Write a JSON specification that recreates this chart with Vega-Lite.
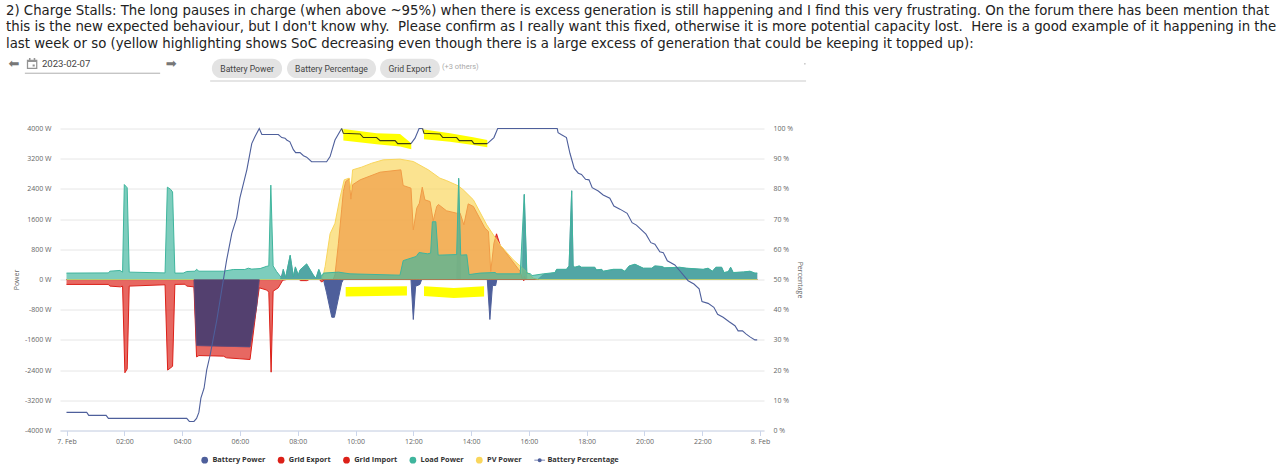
{
  "$schema": "https://vega.github.io/schema/vega-lite/v6.json",
  "autosize": "none",
  "width": 704,
  "height": 302,
  "padding": {"left": 60, "top": 128.5, "right": 519, "bottom": 39.5},
  "background": "white",
  "title": {
    "text": [
      "2) Charge Stalls: The long pauses in charge (when above ~95%) when there is excess generation is still happening and I find this very frustrating. On the forum there has been mention that",
      "this is the new expected behaviour, but I don't know why. \u00a0Please confirm as I really want this fixed, otherwise it is more potential capacity lost. \u00a0Here is a good example of it happening in the",
      "last week or so (yellow highlighting shows SoC decreasing even though there is a large excess of generation that could be keeping it topped up):"
    ],
    "anchor": "start",
    "frame": "group",
    "orient": "top",
    "baseline": "top",
    "offset": 9.5,
    "dx": -54,
    "dy": 2,
    "font": "DejaVu Sans",
    "fontSize": 13.3,
    "fontWeight": "normal",
    "color": "#222222",
    "lineHeight": 16.6,
    "limit": 1300
  },
  "config": {
    "view": {"stroke": null},
    "font": "Open Sans"
  },
  "datasets": {
    "power": [
      {"series": "Battery Power", "hour": 0, "watts": 0},
      {"series": "Battery Power", "hour": 4.41, "watts": 0},
      {"series": "Battery Power", "hour": 4.5, "watts": -1750},
      {"series": "Battery Power", "hour": 6.35, "watts": -1785},
      {"series": "Battery Power", "hour": 6.58, "watts": -706},
      {"series": "Battery Power", "hour": 6.67, "watts": 0},
      {"series": "Battery Power", "hour": 7.4, "watts": 0},
      {"series": "Battery Power", "hour": 7.5, "watts": 260},
      {"series": "Battery Power", "hour": 7.58, "watts": 45},
      {"series": "Battery Power", "hour": 7.74, "watts": 630},
      {"series": "Battery Power", "hour": 7.85, "watts": 70},
      {"series": "Battery Power", "hour": 7.92, "watts": 320},
      {"series": "Battery Power", "hour": 8.02, "watts": 110},
      {"series": "Battery Power", "hour": 8.08, "watts": 240},
      {"series": "Battery Power", "hour": 8.31, "watts": 400},
      {"series": "Battery Power", "hour": 8.54, "watts": 110},
      {"series": "Battery Power", "hour": 8.63, "watts": 10},
      {"series": "Battery Power", "hour": 8.73, "watts": 255},
      {"series": "Battery Power", "hour": 8.83, "watts": 20},
      {"series": "Battery Power", "hour": 8.89, "watts": 0},
      {"series": "Battery Power", "hour": 9.0, "watts": -353},
      {"series": "Battery Power", "hour": 9.18, "watts": -1000},
      {"series": "Battery Power", "hour": 9.27, "watts": -1000},
      {"series": "Battery Power", "hour": 9.52, "watts": -90},
      {"series": "Battery Power", "hour": 9.58, "watts": 0},
      {"series": "Battery Power", "hour": 11.92, "watts": 0},
      {"series": "Battery Power", "hour": 12.0, "watts": -1060},
      {"series": "Battery Power", "hour": 12.08, "watts": -180},
      {"series": "Battery Power", "hour": 12.23, "watts": -130},
      {"series": "Battery Power", "hour": 12.29, "watts": 0},
      {"series": "Battery Power", "hour": 13.5, "watts": 0},
      {"series": "Battery Power", "hour": 13.57, "watts": 2650},
      {"series": "Battery Power", "hour": 13.64, "watts": 0},
      {"series": "Battery Power", "hour": 14.56, "watts": 0},
      {"series": "Battery Power", "hour": 14.65, "watts": -1060},
      {"series": "Battery Power", "hour": 14.74, "watts": -160},
      {"series": "Battery Power", "hour": 14.85, "watts": -160},
      {"series": "Battery Power", "hour": 14.89, "watts": 0},
      {"series": "Battery Power", "hour": 15.77, "watts": 0},
      {"series": "Battery Power", "hour": 15.84, "watts": 2240},
      {"series": "Battery Power", "hour": 15.93, "watts": 0},
      {"series": "Battery Power", "hour": 16.3, "watts": 0},
      {"series": "Battery Power", "hour": 16.5, "watts": 130},
      {"series": "Battery Power", "hour": 16.9, "watts": 175},
      {"series": "Battery Power", "hour": 16.96, "watts": 265},
      {"series": "Battery Power", "hour": 17.3, "watts": 265},
      {"series": "Battery Power", "hour": 17.39, "watts": 355},
      {"series": "Battery Power", "hour": 17.48, "watts": 2350},
      {"series": "Battery Power", "hour": 17.53, "watts": 355},
      {"series": "Battery Power", "hour": 17.59, "watts": 320},
      {"series": "Battery Power", "hour": 17.74, "watts": 355},
      {"series": "Battery Power", "hour": 17.82, "watts": 320},
      {"series": "Battery Power", "hour": 18.28, "watts": 320},
      {"series": "Battery Power", "hour": 18.34, "watts": 250},
      {"series": "Battery Power", "hour": 18.52, "watts": 265},
      {"series": "Battery Power", "hour": 18.57, "watts": 215},
      {"series": "Battery Power", "hour": 18.92, "watts": 265},
      {"series": "Battery Power", "hour": 19.2, "watts": 265},
      {"series": "Battery Power", "hour": 19.32, "watts": 215},
      {"series": "Battery Power", "hour": 19.47, "watts": 355},
      {"series": "Battery Power", "hour": 19.67, "watts": 400},
      {"series": "Battery Power", "hour": 19.96, "watts": 295},
      {"series": "Battery Power", "hour": 20.25, "watts": 295},
      {"series": "Battery Power", "hour": 20.36, "watts": 355},
      {"series": "Battery Power", "hour": 20.6, "watts": 340},
      {"series": "Battery Power", "hour": 20.7, "watts": 305},
      {"series": "Battery Power", "hour": 21.22, "watts": 320},
      {"series": "Battery Power", "hour": 21.45, "watts": 295},
      {"series": "Battery Power", "hour": 22.03, "watts": 265},
      {"series": "Battery Power", "hour": 22.2, "watts": 295},
      {"series": "Battery Power", "hour": 22.35, "watts": 215},
      {"series": "Battery Power", "hour": 22.47, "watts": 320},
      {"series": "Battery Power", "hour": 22.67, "watts": 320},
      {"series": "Battery Power", "hour": 22.75, "watts": 180},
      {"series": "Battery Power", "hour": 22.9, "watts": 200},
      {"series": "Battery Power", "hour": 22.98, "watts": 320},
      {"series": "Battery Power", "hour": 23.07, "watts": 180},
      {"series": "Battery Power", "hour": 23.42, "watts": 195},
      {"series": "Battery Power", "hour": 23.65, "watts": 215},
      {"series": "Battery Power", "hour": 23.82, "watts": 165},
      {"series": "Battery Power", "hour": 23.9, "watts": 165},
      {"series": "Grid Export", "hour": 9.23, "watts": 0},
      {"series": "Grid Export", "hour": 9.29, "watts": 125},
      {"series": "Grid Export", "hour": 9.41, "watts": 960},
      {"series": "Grid Export", "hour": 9.52, "watts": 1845},
      {"series": "Grid Export", "hour": 9.58, "watts": 2330},
      {"series": "Grid Export", "hour": 9.66, "watts": 2595},
      {"series": "Grid Export", "hour": 9.78, "watts": 2667},
      {"series": "Grid Export", "hour": 9.84, "watts": 2128},
      {"series": "Grid Export", "hour": 9.9, "watts": 2510},
      {"series": "Grid Export", "hour": 10.16, "watts": 2640},
      {"series": "Grid Export", "hour": 10.85, "watts": 2843},
      {"series": "Grid Export", "hour": 11.57, "watts": 2905},
      {"series": "Grid Export", "hour": 11.65, "watts": 2490},
      {"series": "Grid Export", "hour": 11.92, "watts": 2420},
      {"series": "Grid Export", "hour": 12.0, "watts": 1315},
      {"series": "Grid Export", "hour": 12.12, "watts": 1890},
      {"series": "Grid Export", "hour": 12.21, "watts": 2020},
      {"series": "Grid Export", "hour": 12.31, "watts": 2446},
      {"series": "Grid Export", "hour": 12.4, "watts": 2110},
      {"series": "Grid Export", "hour": 12.58, "watts": 2066},
      {"series": "Grid Export", "hour": 12.69, "watts": 1554},
      {"series": "Grid Export", "hour": 12.81, "watts": 1934},
      {"series": "Grid Export", "hour": 12.87, "watts": 1987},
      {"series": "Grid Export", "hour": 13.15, "watts": 1820},
      {"series": "Grid Export", "hour": 13.5, "watts": 1757},
      {"series": "Grid Export", "hour": 13.62, "watts": 1757},
      {"series": "Grid Export", "hour": 13.75, "watts": 1448},
      {"series": "Grid Export", "hour": 13.9, "watts": 2004},
      {"series": "Grid Export", "hour": 14.08, "watts": 1934},
      {"series": "Grid Export", "hour": 14.48, "watts": 1360},
      {"series": "Grid Export", "hour": 14.6, "watts": 1272},
      {"series": "Grid Export", "hour": 14.68, "watts": 212},
      {"series": "Grid Export", "hour": 14.79, "watts": 962},
      {"series": "Grid Export", "hour": 14.88, "watts": 1210},
      {"series": "Grid Export", "hour": 15.0, "watts": 918},
      {"series": "Grid Export", "hour": 15.7, "watts": 212},
      {"series": "Grid Export", "hour": 15.84, "watts": 80},
      {"series": "Grid Export", "hour": 15.93, "watts": 0},
      {"series": "Grid Import", "hour": 0, "watts": -130},
      {"series": "Grid Import", "hour": 1.45, "watts": -130},
      {"series": "Grid Import", "hour": 1.5, "watts": -175},
      {"series": "Grid Import", "hour": 1.87, "watts": -195},
      {"series": "Grid Import", "hour": 1.94, "watts": -175},
      {"series": "Grid Import", "hour": 2.02, "watts": -2470},
      {"series": "Grid Import", "hour": 2.1, "watts": -2370},
      {"series": "Grid Import", "hour": 2.17, "watts": -175},
      {"series": "Grid Import", "hour": 3.41, "watts": -140},
      {"series": "Grid Import", "hour": 3.5, "watts": -2400},
      {"series": "Grid Import", "hour": 3.67, "watts": -2300},
      {"series": "Grid Import", "hour": 3.75, "watts": -130},
      {"series": "Grid Import", "hour": 4.1, "watts": -125},
      {"series": "Grid Import", "hour": 4.16, "watts": -175},
      {"series": "Grid Import", "hour": 4.41, "watts": -195},
      {"series": "Grid Import", "hour": 4.5, "watts": -2050},
      {"series": "Grid Import", "hour": 4.58, "watts": -2015},
      {"series": "Grid Import", "hour": 5.43, "watts": -2030},
      {"series": "Grid Import", "hour": 5.54, "watts": -2075},
      {"series": "Grid Import", "hour": 6.0, "watts": -2100},
      {"series": "Grid Import", "hour": 6.35, "watts": -2120},
      {"series": "Grid Import", "hour": 6.58, "watts": -700},
      {"series": "Grid Import", "hour": 6.67, "watts": -220},
      {"series": "Grid Import", "hour": 6.93, "watts": -280},
      {"series": "Grid Import", "hour": 7.0, "watts": -335},
      {"series": "Grid Import", "hour": 7.08, "watts": -2455},
      {"series": "Grid Import", "hour": 7.15, "watts": -310},
      {"series": "Grid Import", "hour": 7.33, "watts": -220},
      {"series": "Grid Import", "hour": 7.48, "watts": -20},
      {"series": "Grid Import", "hour": 7.62, "watts": 0},
      {"series": "Grid Import", "hour": 8.05, "watts": 0},
      {"series": "Grid Import", "hour": 8.1, "watts": -30},
      {"series": "Grid Import", "hour": 8.31, "watts": -30},
      {"series": "Grid Import", "hour": 8.4, "watts": 0},
      {"series": "Grid Import", "hour": 8.75, "watts": 0},
      {"series": "Grid Import", "hour": 8.83, "watts": -70},
      {"series": "Grid Import", "hour": 8.92, "watts": 0},
      {"series": "Grid Import", "hour": 15.78, "watts": 0},
      {"series": "Grid Import", "hour": 15.83, "watts": -30},
      {"series": "Grid Import", "hour": 15.9, "watts": 0},
      {"series": "Grid Import", "hour": 23.9, "watts": 0},
      {"series": "PV Power", "hour": 0, "watts": 0},
      {"series": "PV Power", "hour": 8.8, "watts": 0},
      {"series": "PV Power", "hour": 8.86, "watts": 35},
      {"series": "PV Power", "hour": 8.95, "watts": 345},
      {"series": "PV Power", "hour": 9.12, "watts": 1210},
      {"series": "PV Power", "hour": 9.29, "watts": 1490},
      {"series": "PV Power", "hour": 9.46, "watts": 2155},
      {"series": "PV Power", "hour": 9.61, "watts": 2640},
      {"series": "PV Power", "hour": 9.78, "watts": 2685},
      {"series": "PV Power", "hour": 9.84, "watts": 2375},
      {"series": "PV Power", "hour": 9.9, "watts": 2905},
      {"series": "PV Power", "hour": 10.21, "watts": 2976},
      {"series": "PV Power", "hour": 10.56, "watts": 3080},
      {"series": "PV Power", "hour": 10.96, "watts": 3170},
      {"series": "PV Power", "hour": 11.54, "watts": 3188},
      {"series": "PV Power", "hour": 12.0, "watts": 3126},
      {"series": "PV Power", "hour": 12.52, "watts": 2905},
      {"series": "PV Power", "hour": 12.92, "watts": 2685},
      {"series": "PV Power", "hour": 13.15, "watts": 2620},
      {"series": "PV Power", "hour": 13.56, "watts": 2480},
      {"series": "PV Power", "hour": 13.73, "watts": 2375},
      {"series": "PV Power", "hour": 14.08, "watts": 2110},
      {"series": "PV Power", "hour": 14.54, "watts": 1448},
      {"series": "PV Power", "hour": 15.0, "watts": 918},
      {"series": "PV Power", "hour": 15.46, "watts": 521},
      {"series": "PV Power", "hour": 16.04, "watts": 124},
      {"series": "PV Power", "hour": 16.15, "watts": 35},
      {"series": "PV Power", "hour": 16.33, "watts": 0},
      {"series": "PV Power", "hour": 23.9, "watts": 0},
      {"series": "Load Power", "hour": 0, "watts": 170},
      {"series": "Load Power", "hour": 1.45, "watts": 175},
      {"series": "Load Power", "hour": 1.5, "watts": 220},
      {"series": "Load Power", "hour": 1.85, "watts": 240},
      {"series": "Load Power", "hour": 1.94, "watts": 195},
      {"series": "Load Power", "hour": 2.0, "watts": 2516},
      {"series": "Load Power", "hour": 2.1, "watts": 2430},
      {"series": "Load Power", "hour": 2.17, "watts": 195},
      {"series": "Load Power", "hour": 3.41, "watts": 175},
      {"series": "Load Power", "hour": 3.49, "watts": 2446},
      {"series": "Load Power", "hour": 3.6, "watts": 2390},
      {"series": "Load Power", "hour": 3.67, "watts": 2320},
      {"series": "Load Power", "hour": 3.75, "watts": 170},
      {"series": "Load Power", "hour": 4.04, "watts": 170},
      {"series": "Load Power", "hour": 4.16, "watts": 212},
      {"series": "Load Power", "hour": 4.45, "watts": 220},
      {"series": "Load Power", "hour": 4.5, "watts": 270},
      {"series": "Load Power", "hour": 4.58, "watts": 220},
      {"series": "Load Power", "hour": 5.43, "watts": 220},
      {"series": "Load Power", "hour": 5.77, "watts": 265},
      {"series": "Load Power", "hour": 6.17, "watts": 265},
      {"series": "Load Power", "hour": 6.29, "watts": 300},
      {"series": "Load Power", "hour": 6.41, "watts": 275},
      {"series": "Load Power", "hour": 6.7, "watts": 290},
      {"series": "Load Power", "hour": 6.93, "watts": 350},
      {"series": "Load Power", "hour": 7.0, "watts": 360},
      {"series": "Load Power", "hour": 7.07, "watts": 2500},
      {"series": "Load Power", "hour": 7.15, "watts": 360},
      {"series": "Load Power", "hour": 7.27, "watts": 210},
      {"series": "Load Power", "hour": 7.45, "watts": 35},
      {"series": "Load Power", "hour": 7.5, "watts": 270},
      {"series": "Load Power", "hour": 7.58, "watts": 50},
      {"series": "Load Power", "hour": 7.74, "watts": 645},
      {"series": "Load Power", "hour": 7.85, "watts": 80},
      {"series": "Load Power", "hour": 7.92, "watts": 335},
      {"series": "Load Power", "hour": 8.02, "watts": 120},
      {"series": "Load Power", "hour": 8.08, "watts": 255},
      {"series": "Load Power", "hour": 8.31, "watts": 415},
      {"series": "Load Power", "hour": 8.54, "watts": 120},
      {"series": "Load Power", "hour": 8.63, "watts": 35},
      {"series": "Load Power", "hour": 8.73, "watts": 270},
      {"series": "Load Power", "hour": 8.83, "watts": 80},
      {"series": "Load Power", "hour": 8.89, "watts": 170},
      {"series": "Load Power", "hour": 9.41, "watts": 195},
      {"series": "Load Power", "hour": 9.81, "watts": 150},
      {"series": "Load Power", "hour": 11.54, "watts": 115},
      {"series": "Load Power", "hour": 11.65, "watts": 500},
      {"series": "Load Power", "hour": 12.1, "watts": 610},
      {"series": "Load Power", "hour": 12.2, "watts": 715},
      {"series": "Load Power", "hour": 12.5, "watts": 680},
      {"series": "Load Power", "hour": 12.6, "watts": 700},
      {"series": "Load Power", "hour": 12.66, "watts": 1530},
      {"series": "Load Power", "hour": 12.78, "watts": 1530},
      {"series": "Load Power", "hour": 12.86, "watts": 645},
      {"series": "Load Power", "hour": 13.5, "watts": 660},
      {"series": "Load Power", "hour": 13.57, "watts": 2685},
      {"series": "Load Power", "hour": 13.64, "watts": 645},
      {"series": "Load Power", "hour": 13.85, "watts": 655},
      {"series": "Load Power", "hour": 13.93, "watts": 130},
      {"series": "Load Power", "hour": 14.31, "watts": 170},
      {"series": "Load Power", "hour": 14.83, "watts": 185},
      {"series": "Load Power", "hour": 14.89, "watts": 150},
      {"series": "Load Power", "hour": 15.7, "watts": 150},
      {"series": "Load Power", "hour": 15.84, "watts": 2260},
      {"series": "Load Power", "hour": 15.93, "watts": 170},
      {"series": "Load Power", "hour": 16.05, "watts": 150},
      {"series": "Load Power", "hour": 16.11, "watts": 105},
      {"series": "Load Power", "hour": 16.5, "watts": 150},
      {"series": "Load Power", "hour": 16.9, "watts": 185},
      {"series": "Load Power", "hour": 16.96, "watts": 270},
      {"series": "Load Power", "hour": 17.3, "watts": 270},
      {"series": "Load Power", "hour": 17.39, "watts": 360},
      {"series": "Load Power", "hour": 17.48, "watts": 2350},
      {"series": "Load Power", "hour": 17.53, "watts": 360},
      {"series": "Load Power", "hour": 17.59, "watts": 325},
      {"series": "Load Power", "hour": 17.74, "watts": 360},
      {"series": "Load Power", "hour": 17.82, "watts": 325},
      {"series": "Load Power", "hour": 18.28, "watts": 325},
      {"series": "Load Power", "hour": 18.34, "watts": 255},
      {"series": "Load Power", "hour": 18.52, "watts": 270},
      {"series": "Load Power", "hour": 18.57, "watts": 220},
      {"series": "Load Power", "hour": 18.92, "watts": 270},
      {"series": "Load Power", "hour": 19.2, "watts": 270},
      {"series": "Load Power", "hour": 19.32, "watts": 220},
      {"series": "Load Power", "hour": 19.47, "watts": 360},
      {"series": "Load Power", "hour": 19.67, "watts": 405},
      {"series": "Load Power", "hour": 19.96, "watts": 300},
      {"series": "Load Power", "hour": 20.25, "watts": 300},
      {"series": "Load Power", "hour": 20.36, "watts": 360},
      {"series": "Load Power", "hour": 20.6, "watts": 345},
      {"series": "Load Power", "hour": 20.7, "watts": 310},
      {"series": "Load Power", "hour": 21.22, "watts": 325},
      {"series": "Load Power", "hour": 21.45, "watts": 300},
      {"series": "Load Power", "hour": 22.03, "watts": 270},
      {"series": "Load Power", "hour": 22.2, "watts": 300},
      {"series": "Load Power", "hour": 22.35, "watts": 220},
      {"series": "Load Power", "hour": 22.47, "watts": 325},
      {"series": "Load Power", "hour": 22.67, "watts": 325},
      {"series": "Load Power", "hour": 22.75, "watts": 185},
      {"series": "Load Power", "hour": 22.9, "watts": 210},
      {"series": "Load Power", "hour": 22.98, "watts": 325},
      {"series": "Load Power", "hour": 23.07, "watts": 185},
      {"series": "Load Power", "hour": 23.42, "watts": 200},
      {"series": "Load Power", "hour": 23.65, "watts": 220},
      {"series": "Load Power", "hour": 23.82, "watts": 170},
      {"series": "Load Power", "hour": 23.9, "watts": 170}
    ],
    "soc": [
      {"stretch": "a", "hour": 0, "percent": 6}, {"stretch": "a", "hour": 0.7, "percent": 6}, {"stretch": "a", "hour": 0.77, "percent": 5},
      {"stretch": "a", "hour": 1.37, "percent": 5}, {"stretch": "a", "hour": 1.45, "percent": 4}, {"stretch": "a", "hour": 4.16, "percent": 4},
      {"stretch": "a", "hour": 4.25, "percent": 3}, {"stretch": "a", "hour": 4.41, "percent": 3}, {"stretch": "a", "hour": 4.5, "percent": 4},
      {"stretch": "a", "hour": 4.58, "percent": 6}, {"stretch": "a", "hour": 4.65, "percent": 10.7}, {"stretch": "a", "hour": 4.76, "percent": 14},
      {"stretch": "a", "hour": 4.85, "percent": 20}, {"stretch": "a", "hour": 4.97, "percent": 25}, {"stretch": "a", "hour": 5.2, "percent": 36.5},
      {"stretch": "a", "hour": 5.43, "percent": 50}, {"stretch": "a", "hour": 5.54, "percent": 56.4}, {"stretch": "a", "hour": 5.72, "percent": 65.3},
      {"stretch": "a", "hour": 5.89, "percent": 70.5}, {"stretch": "a", "hour": 6.0, "percent": 77}, {"stretch": "a", "hour": 6.24, "percent": 86.3},
      {"stretch": "a", "hour": 6.41, "percent": 95}, {"stretch": "a", "hour": 6.52, "percent": 97.3}, {"stretch": "a", "hour": 6.67, "percent": 100},
      {"stretch": "a", "hour": 6.76, "percent": 98}, {"stretch": "a", "hour": 7.33, "percent": 98}, {"stretch": "a", "hour": 7.45, "percent": 97},
      {"stretch": "a", "hour": 7.56, "percent": 96.8}, {"stretch": "a", "hour": 7.62, "percent": 96.2}, {"stretch": "a", "hour": 7.73, "percent": 95.6},
      {"stretch": "a", "hour": 7.85, "percent": 93}, {"stretch": "a", "hour": 7.93, "percent": 92}, {"stretch": "a", "hour": 8.08, "percent": 92},
      {"stretch": "a", "hour": 8.2, "percent": 91}, {"stretch": "a", "hour": 8.31, "percent": 90.5}, {"stretch": "a", "hour": 8.48, "percent": 89},
      {"stretch": "a", "hour": 9.0, "percent": 89}, {"stretch": "a", "hour": 9.12, "percent": 90.7}, {"stretch": "a", "hour": 9.29, "percent": 96.2},
      {"stretch": "a", "hour": 9.52, "percent": 100},
      {"stretch": "c", "hour": 11.92, "percent": 95}, {"stretch": "c", "hour": 12.06, "percent": 96.8},
      {"stretch": "c", "hour": 12.2, "percent": 100}, {"stretch": "c", "hour": 12.32, "percent": 100},
      {"stretch": "d", "hour": 14.56, "percent": 95}, {"stretch": "d", "hour": 14.79, "percent": 97},
      {"stretch": "d", "hour": 14.92, "percent": 100}, {"stretch": "d", "hour": 16.98, "percent": 100},
      {"stretch": "d", "hour": 17.01, "percent": 98.6}, {"stretch": "d", "hour": 17.13, "percent": 97.9},
      {"stretch": "d", "hour": 17.3, "percent": 97}, {"stretch": "d", "hour": 17.42, "percent": 91.8},
      {"stretch": "d", "hour": 17.57, "percent": 86.8}, {"stretch": "d", "hour": 17.71, "percent": 85.2},
      {"stretch": "d", "hour": 17.82, "percent": 84.8}, {"stretch": "d", "hour": 17.96, "percent": 83.2},
      {"stretch": "d", "hour": 18.08, "percent": 83}, {"stretch": "d", "hour": 18.19, "percent": 80.4},
      {"stretch": "d", "hour": 18.4, "percent": 79.3}, {"stretch": "d", "hour": 18.57, "percent": 78},
      {"stretch": "d", "hour": 18.8, "percent": 76.9}, {"stretch": "d", "hour": 18.94, "percent": 74.3},
      {"stretch": "d", "hour": 19.15, "percent": 73.3}, {"stretch": "d", "hour": 19.4, "percent": 71.9},
      {"stretch": "d", "hour": 19.57, "percent": 68.8}, {"stretch": "d", "hour": 19.72, "percent": 68},
      {"stretch": "d", "hour": 20.05, "percent": 65}, {"stretch": "d", "hour": 20.22, "percent": 62.2},
      {"stretch": "d", "hour": 20.36, "percent": 61.7}, {"stretch": "d", "hour": 20.53, "percent": 59.2},
      {"stretch": "d", "hour": 20.65, "percent": 58.9}, {"stretch": "d", "hour": 20.79, "percent": 56.2},
      {"stretch": "d", "hour": 21.05, "percent": 54.8}, {"stretch": "d", "hour": 21.22, "percent": 52.9},
      {"stretch": "d", "hour": 21.51, "percent": 49.6}, {"stretch": "d", "hour": 21.71, "percent": 48.5},
      {"stretch": "d", "hour": 21.89, "percent": 46.9}, {"stretch": "d", "hour": 21.99, "percent": 42.7},
      {"stretch": "d", "hour": 22.2, "percent": 42.1}, {"stretch": "d", "hour": 22.4, "percent": 40.8},
      {"stretch": "d", "hour": 22.53, "percent": 38.5}, {"stretch": "d", "hour": 22.72, "percent": 37.5},
      {"stretch": "d", "hour": 22.93, "percent": 36}, {"stretch": "d", "hour": 23.13, "percent": 34.7},
      {"stretch": "d", "hour": 23.24, "percent": 33}, {"stretch": "d", "hour": 23.39, "percent": 33},
      {"stretch": "d", "hour": 23.51, "percent": 32}, {"stretch": "d", "hour": 23.65, "percent": 31},
      {"stretch": "d", "hour": 23.82, "percent": 30}, {"stretch": "d", "hour": 23.9, "percent": 30}
    ],
    "socHighlighted": [
      {"stretch": "a", "hour": 9.52, "percent": 100}, {"stretch": "a", "hour": 9.58, "percent": 98.4},
      {"stretch": "a", "hour": 10.16, "percent": 98.2}, {"stretch": "a", "hour": 10.27, "percent": 97},
      {"stretch": "a", "hour": 10.73, "percent": 97}, {"stretch": "a", "hour": 10.85, "percent": 96},
      {"stretch": "a", "hour": 11.37, "percent": 96}, {"stretch": "a", "hour": 11.46, "percent": 95},
      {"stretch": "a", "hour": 11.92, "percent": 95},
      {"stretch": "b", "hour": 12.32, "percent": 100}, {"stretch": "b", "hour": 12.37, "percent": 98.4},
      {"stretch": "b", "hour": 12.92, "percent": 98.2}, {"stretch": "b", "hour": 13.02, "percent": 97},
      {"stretch": "b", "hour": 13.5, "percent": 97}, {"stretch": "b", "hour": 13.59, "percent": 96},
      {"stretch": "b", "hour": 14.02, "percent": 96}, {"stretch": "b", "hour": 14.1, "percent": 95},
      {"stretch": "b", "hour": 14.56, "percent": 95}
    ],
    "highlight": [
      {"patch": "top1", "hour": 9.58, "low": 96, "high": 99.8},
      {"patch": "top1", "hour": 10.73, "low": 94.8, "high": 98.4},
      {"patch": "top1", "hour": 11.54, "low": 94, "high": 98.2},
      {"patch": "top1", "hour": 11.93, "low": 93.1, "high": 95.1},
      {"patch": "top2", "hour": 12.37, "low": 96.4, "high": 99.7},
      {"patch": "top2", "hour": 13.27, "low": 95.6, "high": 98.4},
      {"patch": "top2", "hour": 14.07, "low": 94.5, "high": 97.1},
      {"patch": "top2", "hour": 14.56, "low": 93.8, "high": 96.2},
      {"patch": "low1", "hour": 9.66, "low": 44.4, "high": 47.5},
      {"patch": "low1", "hour": 11.78, "low": 44.7, "high": 47.8},
      {"patch": "low2", "hour": 12.37, "low": 44.5, "high": 47.8},
      {"patch": "low2", "hour": 13.4, "low": 43.9, "high": 47.2},
      {"patch": "low2", "hour": 14.45, "low": 44.4, "high": 47.8}
    ],
    "chips": [
      {"label": "Battery Power", "hour": 5.03, "end": 7.46, "middle": 6.25},
      {"label": "Battery Percentage", "hour": 7.63, "end": 10.71, "middle": 9.17},
      {"label": "Grid Export", "hour": 10.85, "end": 12.92, "middle": 11.88}
    ]
  },
  "encoding": {
    "x": {
      "field": "hour",
      "type": "quantitative",
      "scale": {"domain": [-0.225, 24.135], "nice": false, "zero": false},
      "axis": {
        "title": null,
        "values": [0, 2, 4, 6, 8, 10, 12, 14, 16, 18, 20, 22, 24],
        "labelExpr": "datum.value == 0 ? '7. Feb' : datum.value == 24 ? '8. Feb' : (datum.value < 10 ? '0' : '') + datum.value + ':00'",
        "grid": false,
        "domainColor": "#ccd6eb",
        "tickColor": "#ccd6eb",
        "tickSize": 5,
        "labelFont": "Open Sans",
        "labelFontSize": 7,
        "labelColor": "#666666",
        "labelPadding": 2,
        "labelFlush": false
      }
    }
  },
  "layer": [
    {
      "encoding": {
        "y": {
          "field": "watts",
          "type": "quantitative",
          "scale": {"domain": [-4000, 4000], "nice": false},
          "axis": {
            "title": "Power",
            "titleFont": "Open Sans",
            "titleFontSize": 7,
            "titleFontWeight": "normal",
            "titleColor": "#666666",
            "titlePadding": 5,
            "values": [-4000, -3200, -2400, -1600, -800, 0, 800, 1600, 2400, 3200, 4000],
            "labelExpr": "datum.value + ' W'",
            "labelFont": "Open Sans",
            "labelFontSize": 7,
            "labelColor": "#666666",
            "labelPadding": 9,
            "tickSize": 0,
            "domain": false,
            "grid": true,
            "gridColor": "#e6e6e6",
            "gridWidth": 1
          }
        },
        "color": {
          "field": "series",
          "type": "nominal",
          "scale": {
            "domain": ["Battery Power", "Grid Export", "Grid Import", "Load Power", "PV Power", "Battery Percentage"],
            "range": ["#4e5f9b", "#dc2018", "#dc2018", "#3fb59d", "#f9d65c", "#4e5f9b"]
          },
          "legend": {
            "orient": "none",
            "legendX": 141,
            "legendY": 328,
            "direction": "horizontal",
            "title": null,
            "labelFont": "Open Sans",
            "labelFontSize": 7.4,
            "labelFontWeight": "bold",
            "labelColor": "#333333",
            "symbolSize": 45,
            "symbolOpacity": 1,
            "symbolStrokeWidth": 0,
            "columnPadding": 11.4,
            "labelOffset": 4,
            "gridAlign": "none"
          }
        }
      },
      "layer": [
        {
          "data": {"name": "power"},
          "transform": [{"filter": "datum.series == 'Battery Power' && datum.watts >= 0"}],
          "mark": {"type": "area", "opacity": 0.75, "line": {"strokeWidth": 0.6}}
        },
        {
          "data": {"name": "power"},
          "transform": [{"filter": "datum.series == 'Battery Power' && datum.watts <= 0"}],
          "mark": {"type": "area", "opacity": 1, "line": {"strokeWidth": 1}}
        },
        {
          "data": {"name": "power"},
          "transform": [{"filter": "datum.series == 'Grid Export' || datum.series == 'Grid Import'"}],
          "mark": {"type": "area", "opacity": 0.68, "line": {"strokeWidth": 1}}
        },
        {
          "data": {"name": "power"},
          "transform": [{"filter": "datum.series == 'PV Power'"}],
          "mark": {"type": "area", "opacity": 0.68, "line": {"strokeWidth": 1}}
        },
        {
          "data": {"name": "power"},
          "transform": [{"filter": "datum.series == 'Load Power'"}],
          "mark": {"type": "area", "opacity": 0.68, "line": {"strokeWidth": 1}}
        },
        {
          "data": {"name": "power"},
          "transform": [{"filter": "datum.series == 'Battery Power' && datum.hour >= 4.41 && datum.hour <= 6.67"}],
          "mark": {"type": "area", "stroke": "#4e5f9b", "strokeWidth": 0.5},
          "encoding": {"color": {"value": "#53406f"}}
        },
        {
          "data": {"name": "power"},
          "mark": {"type": "point", "opacity": 0, "filled": true},
          "encoding": {
            "shape": {
              "field": "series",
              "type": "nominal",
              "scale": {
                "domain": ["Battery Power", "Grid Export", "Grid Import", "Load Power", "PV Power", "Battery Percentage"],
                "range": ["circle", "circle", "circle", "circle", "circle", "M-1.6,-0.11H1.6V0.11H-1.6Z M0.6,0A0.6,0.6 0 1 1 -0.6,0A0.6,0.6 0 1 1 0.6,0Z"]
              },
              "legend": {
                "orient": "none",
                "legendX": 141,
                "legendY": 328,
                "direction": "horizontal",
                "title": null,
                "labelFont": "Open Sans",
                "labelFontSize": 7.4,
                "labelFontWeight": "bold",
                "labelColor": "#333333",
                "symbolSize": 45,
                "symbolOpacity": 1,
                "symbolStrokeWidth": 0,
                "columnPadding": 11.4,
                "labelOffset": 4,
                "gridAlign": "none"
              }
            }
          }
        }
      ]
    },
    {
      "resolve": {"axis": {"y": "independent"}},
      "layer": [
        {
          "data": {"name": "highlight"},
          "mark": {"type": "area", "color": "#ffff00", "opacity": 1},
          "encoding": {
            "y": {"field": "low", "type": "quantitative", "scale": {"domain": [0, 100], "nice": false}, "axis": null},
            "y2": {"field": "high"},
            "detail": {"field": "patch"}
          }
        },
        {
          "data": {"name": "soc"},
          "mark": {"type": "line", "strokeWidth": 1.1, "color": "#4e5f9b"},
          "encoding": {
            "y": {
              "field": "percent",
              "type": "quantitative",
              "scale": {"domain": [0, 100], "nice": false},
              "axis": {
                "orient": "right",
                "title": "Percentage",
                "titleFont": "Open Sans",
                "titleFontSize": 7,
                "titleFontWeight": "normal",
                "titleColor": "#666666",
                "titlePadding": 4,
                "values": [0, 10, 20, 30, 40, 50, 60, 70, 80, 90, 100],
                "labelExpr": "datum.value + ' %'",
                "labelFont": "Open Sans",
                "labelFontSize": 7,
                "labelColor": "#666666",
                "labelPadding": 9,
                "tickSize": 0,
                "domain": false,
                "grid": false
              }
            },
            "detail": {"field": "stretch"}
          }
        },
        {
          "data": {"name": "socHighlighted"},
          "mark": {"type": "line", "strokeWidth": 1.1, "color": "#3f3f14"},
          "encoding": {
            "y": {"field": "percent", "type": "quantitative", "scale": {"domain": [0, 100], "nice": false}, "axis": null},
            "detail": {"field": "stretch"}
          }
        },
        {
          "data": {"name": "chips"},
          "mark": {"type": "bar", "color": "#e3e3e3", "cornerRadius": 10},
          "encoding": {
            "x2": {"field": "end"},
            "y": {"datum": 123.1, "type": "quantitative", "scale": {"domain": [0, 100], "nice": false}, "axis": null},
            "y2": {"datum": 116.7}
          }
        },
        {
          "data": {"name": "chips"},
          "mark": {"type": "text", "font": "Roboto", "fontSize": 8.6, "color": "#444444", "align": "center", "baseline": "middle"},
          "encoding": {
            "x": {"field": "middle", "type": "quantitative", "scale": {"domain": [-0.225, 24.135], "nice": false, "zero": false}},
            "y": {"datum": 119.7, "type": "quantitative", "scale": {"domain": [0, 100], "nice": false}, "axis": null},
            "text": {"field": "label"}
          }
        },
        {
          "data": {"values": [{"label": "(+3 others)", "hour": 12.99}]},
          "mark": {"type": "text", "font": "Roboto", "fontSize": 7.5, "color": "#aaaaaa", "align": "left", "baseline": "middle"},
          "encoding": {"y": {"datum": 120.2, "type": "quantitative", "scale": {"domain": [0, 100], "nice": false}, "axis": null}, "text": {"field": "label"}}
        },
        {
          "data": {"values": [{"label": "2023-02-07", "hour": -0.85}]},
          "mark": {"type": "text", "font": "Roboto", "fontSize": 9.6, "color": "#444444", "align": "left", "baseline": "middle"},
          "encoding": {"y": {"datum": 121.4, "type": "quantitative", "scale": {"domain": [0, 100], "nice": false}, "axis": null}, "text": {"field": "label"}}
        },
        {
          "data": {"values": [{"label": "⬅", "hour": -1.82}, {"label": "➡", "hour": 3.62}]},
          "mark": {"type": "text", "font": "DejaVu Sans", "fontSize": 13, "color": "#777777", "align": "center", "baseline": "middle"},
          "encoding": {"y": {"datum": 121.4, "type": "quantitative", "scale": {"domain": [0, 100], "nice": false}, "axis": null}, "text": {"field": "label"}}
        },
        {
          "data": {"values": [{"hour": -1.19}]},
          "mark": {
            "type": "point",
            "shape": "M-0.5,-0.4H0.5V0.5H-0.5Z M-0.38,-0.17V0.38H0.38V-0.17Z M-0.3,-0.55H-0.15V-0.3H-0.3Z M0.15,-0.55H0.3V-0.3H0.15Z M0.05,0.05H0.25V0.25H0.05Z",
            "filled": true,
            "size": 440,
            "color": "#666666"
          },
          "encoding": {"y": {"datum": 121.4, "type": "quantitative", "scale": {"domain": [0, 100], "nice": false}, "axis": null}}
        },
        {
          "data": {"values": [{"hour": -1.44, "end": 3.24}]},
          "mark": {"type": "rule", "color": "#999999", "strokeWidth": 0.8},
          "encoding": {"x2": {"field": "end"}, "y": {"datum": 118.3, "type": "quantitative", "scale": {"domain": [0, 100], "nice": false}, "axis": null}}
        },
        {
          "data": {"values": [{"hour": 4.97, "end": 25.59}]},
          "mark": {"type": "rule", "color": "#dddddd", "strokeWidth": 1.5},
          "encoding": {"x2": {"field": "end"}, "y": {"datum": 115.7, "type": "quantitative", "scale": {"domain": [0, 100], "nice": false}, "axis": null}}
        },
        {
          "data": {"values": [{"hour": 25.55}]},
          "mark": {"type": "point", "shape": "circle", "filled": true, "size": 2, "color": "#666666"},
          "encoding": {"y": {"datum": 121.4, "type": "quantitative", "scale": {"domain": [0, 100], "nice": false}, "axis": null}}
        }
      ]
    }
  ],
  "resolve": {"scale": {"y": "independent"}}
}
